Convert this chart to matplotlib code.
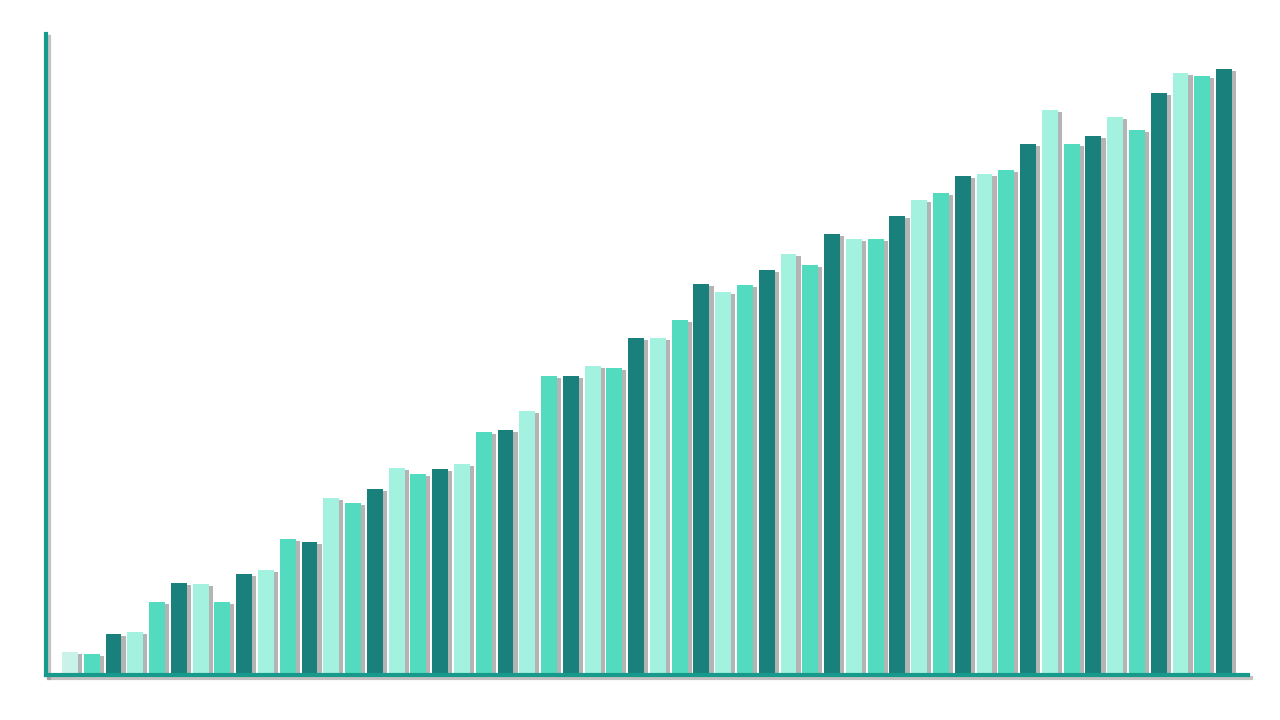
import numpy as np
import matplotlib.pyplot as plt
import matplotlib.patheffects as pe

# bar heights (pixel units above the baseline)
values = [23, 21, 41, 43, 73, 92, 91, 73, 101, 105,
          136, 133, 177, 172, 186, 207, 201, 206, 211, 243,
          245, 264, 299, 299, 309, 307, 337, 337, 355, 391,
          383, 390, 405, 421, 410, 441, 436, 436, 459, 475,
          482, 499, 501, 505, 531, 565, 531, 539, 558, 545,
          582, 602, 599, 606]
palette = ["#a2f2df", "#52dbbe", "#1a807c"]
first_color = "#c9f3e9"
axis_color = "#17998c"

x = np.arange(len(values))
colors = [palette[i % 3] for i in range(len(values))]
colors[0] = first_color

fig = plt.figure(figsize=(12.8, 7.2), dpi=100)
ax = fig.add_axes([46 / 1280, 45 / 720, 1202 / 1280, 641 / 720])

shadow = [pe.SimplePatchShadow(offset=(3, -1.5), shadow_rgbFace="#777777", alpha=0.55), pe.Normal()]

bars = ax.bar(x, values, width=0.73, color=colors, linewidth=0)
for b in bars:
    b.set_path_effects(shadow)

ax.set_xlim(-1.1, 54.1)
ax.set_ylim(0, 641)

for side in ["top", "right"]:
    ax.spines[side].set_visible(False)
for side in ["left", "bottom"]:
    ax.spines[side].set_color(axis_color)
    ax.spines[side].set_linewidth(3)
    ax.spines[side].set_path_effects(
        [pe.SimpleLineShadow(offset=(2, -2), shadow_color="#888888", alpha=0.5), pe.Normal()])

ax.set_xticks([])
ax.set_yticks([])

fig.savefig("out.png", dpi=100)
